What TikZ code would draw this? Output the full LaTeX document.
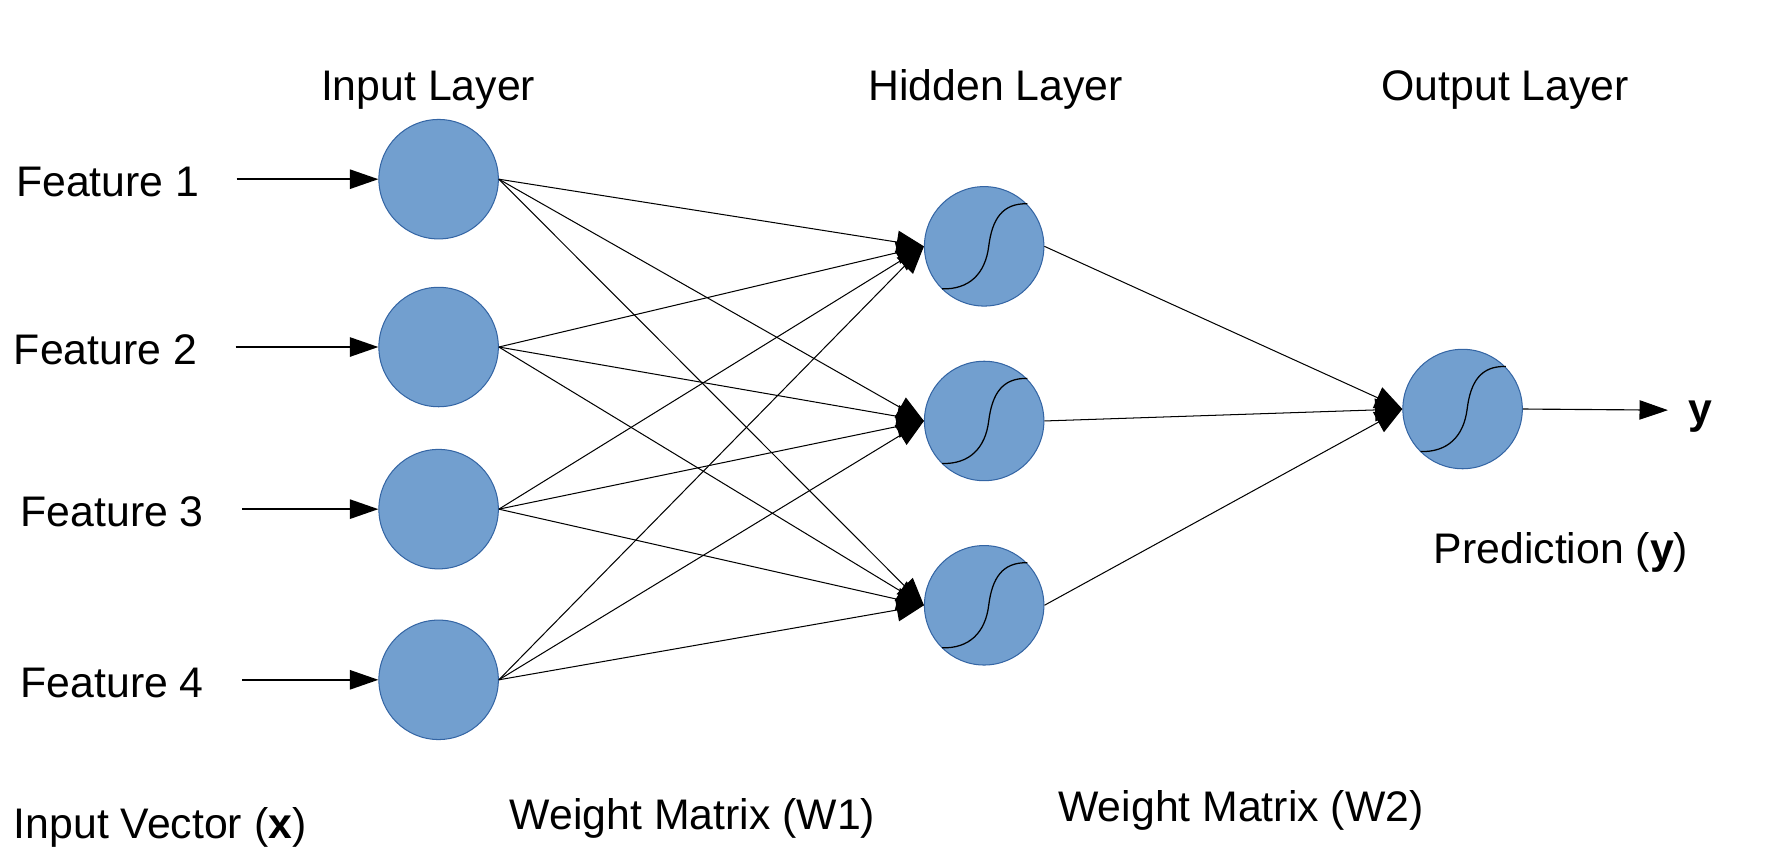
\documentclass[tikz,border=0pt]{standalone}
\usepackage{fontspec}
\setmainfont{Liberation Sans}
\usetikzlibrary{arrows.meta}
\definecolor{nodefill}{HTML}{729FCF}
\definecolor{nodeedge}{HTML}{3465A4}
\tikzset{
  neuron/.style={circle, draw=nodeedge, line width=0.9pt, fill=nodefill, minimum size=105pt, inner sep=0pt},
  lbl/.style={inner sep=0pt, font=\fontsize{37.6}{44}\selectfont},
  inarrow/.style={line width=1.3pt, -{Triangle[length=25pt,width=17pt]}},
  edge/.style={line width=0.9pt, -{Triangle[length=24pt,width=20pt]}},
  sigline/.style={line width=1.1pt, black}
}
\newcommand\sigcurve[1]{%
  \begin{scope}[shift={(#1.center)}]
    \draw[sigline] (-37,37.4) .. controls (-13,38) and (1,24) .. (4,0)
                   .. controls (7,-24) and (16,-38) .. (38,-37.4);
  \end{scope}}
\begin{document}
\begin{tikzpicture}[x=1pt,y=-1pt]
\useasboundingbox (0,0) rectangle (1568,759.4);
\fill[white] (0,0) rectangle (1568,759.4);

% layer titles
\node[lbl, anchor=base west] (tin) at (282,88) {Input Layer};
\node[lbl, anchor=base west] (thid) at (763,88) {Hidden Layer};
\node[lbl, anchor=base west] (tout) at (1214,88) {Output Layer};

% input neurons
\node[neuron] (i1) at (385.5,157.5) {};
\node[neuron] (i2) at (385.5,305) {};
\node[neuron] (i3) at (385.5,447.5) {};
\node[neuron] (i4) at (385.5,597.5) {};

% hidden neurons
\node[neuron] (h1) at (865,216.5) {};
\node[neuron] (h2) at (865,370) {};
\node[neuron] (h3) at (865,532) {};

% output neuron
\node[neuron] (o) at (1285.5,359.5) {};

\sigcurve{h1}
\sigcurve{h2}
\sigcurve{h3}
\sigcurve{o}

% feature labels
\node[lbl, anchor=base west] (f1) at (14,173) {Feature 1};
\node[lbl, anchor=base west] (f2) at (12,320) {Feature 2};
\node[lbl, anchor=base west] (f3) at (18,463) {Feature 3};
\node[lbl, anchor=base west] (f4) at (18,613) {Feature 4};

\coordinate (s1) at (208,157.5);
\coordinate (s2) at (207,305);
\coordinate (s3) at (213,447.5);
\coordinate (s4) at (213,597.5);
\draw[inarrow] (s1) -- (i1.west);
\draw[inarrow] (s2) -- (i2.west);
\draw[inarrow] (s3) -- (i3.west);
\draw[inarrow] (s4) -- (i4.west);

% input -> hidden
\foreach \i in {i1,i2,i3,i4}{
  \foreach \h in {h1,h2,h3}{
    \draw[edge] (\i.east) -- (\h.west);
  }
}
% hidden -> output
\foreach \h in {h1,h2,h3}{
  \draw[edge] (\h.east) -- (o.west);
}

% output arrow
\node[lbl, anchor=base west] (ylab) at (1484,372) {\textbf{y}};
\coordinate (oend) at (1466,360.5);
\draw[inarrow, line width=1pt] (o.east) -- (oend);

\node[lbl, anchor=base west] (pred) at (1260,495) {Prediction (\textbf{y})};
\node[lbl, anchor=base west] (ivec) at (12,737) {Input Vector (\textbf{x})};
\node[lbl, anchor=base west] (w1) at (448,729) {Weight Matrix (W1)};
\node[lbl, anchor=base west] (w2) at (930,722) {Weight Matrix (W2)};
\end{tikzpicture}
\end{document}
